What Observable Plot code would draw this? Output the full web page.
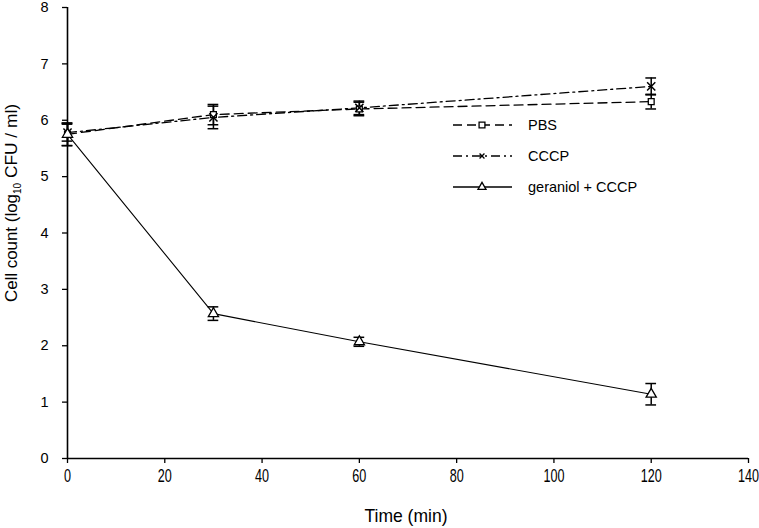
<!DOCTYPE html>
<html>
<head>
<meta charset="utf-8">
<script src="https://cdn.jsdelivr.net/npm/d3@7"></script>
<script src="https://cdn.jsdelivr.net/npm/@observablehq/plot@0.6"></script>
<style>
  html, body { margin: 0; padding: 0; background: #fff; }
  #chart svg { display: block; }
</style>
</head>
<body>
<div id="chart"></div>
<script>
const times = [0, 30, 60, 120];
const seriesNames = ["PBS", "CCCP", "geraniol + CCCP"];
const pbsValues = [5.75, 6.1, 6.2, 6.33];
const pbsErrors = [0.2, 0.18, 0.12, 0.13];
const cccpValues = [5.78, 6.05, 6.22, 6.6];
const cccpErrors = [0.15, 0.2, 0.12, 0.15];
const gerValues = [5.75, 2.57, 2.07, 1.14];
const gerErrors = [0.2, 0.12, 0.08, 0.19];
const xTicks = [0, 20, 40, 60, 80, 100, 120, 140];
const yTicks = [0, 1, 2, 3, 4, 5, 6, 7, 8];

const mk = (name, vals, errs) => times.map((t, i) => ({series: name, t, v: vals[i], e: errs[i]}));
const pbs = mk(seriesNames[0], pbsValues, pbsErrors);
const cccp = mk(seriesNames[1], cccpValues, cccpErrors);
const ger = mk(seriesNames[2], gerValues, gerErrors);
const all = [...pbs, ...cccp, ...ger];

const styles = {
  "PBS": {dash: "9,5", symbol: "square"},
  "CCCP": {dash: "9,4,2,4", symbol: "times"},
  "geraniol + CCCP": {dash: null, symbol: "triangle"}
};

const capHalf = 1.1; // minutes
const plot = Plot.plot({
  width: 759,
  height: 528,
  marginLeft: 67,
  marginRight: 11,
  marginTop: 7,
  marginBottom: 70,
  style: {fontFamily: "'Liberation Sans', Arial, sans-serif", background: "#fff", color: "#000"},
  x: {domain: [0, 140], ticks: xTicks},
  y: {domain: [0, 8], ticks: yTicks},
  marks: [
    Plot.axisX({ticks: xTicks, tickSize: 5, tickFormat: () => "", label: null, strokeWidth: 1.3}),
    Plot.text(xTicks, {x: d => d, frameAnchor: "bottom", dy: 23, text: d => String(d),
      fontSize: 17.5, fill: "#000"}),
    Plot.axisY({ticks: yTicks, tickSize: 5, tickPadding: 14, fontSize: 14.5, label: null, strokeWidth: 1.3}),
    Plot.ruleY([0], {stroke: "#000", strokeWidth: 1.6}),
    Plot.ruleX([0], {stroke: "#000", strokeWidth: 1.6}),
    Plot.line(pbs, {x: "t", y: "v", stroke: "#000", strokeWidth: 1.3, strokeDasharray: styles["PBS"].dash}),
    Plot.line(cccp, {x: "t", y: "v", stroke: "#000", strokeWidth: 1.3, strokeDasharray: styles["CCCP"].dash}),
    Plot.line(ger, {x: "t", y: "v", stroke: "#000", strokeWidth: 1.1}),
    Plot.ruleX(all, {x: "t", y1: d => d.v - d.e, y2: d => d.v + d.e, stroke: "#000", strokeWidth: 1.5}),
    Plot.ruleY(all, {y: d => d.v - d.e, x1: d => d.t - capHalf, x2: d => d.t + capHalf, stroke: "#000", strokeWidth: 1.5}),
    Plot.ruleY(all, {y: d => d.v + d.e, x1: d => d.t - capHalf, x2: d => d.t + capHalf, stroke: "#000", strokeWidth: 1.5}),
    Plot.dot(pbs, {x: "t", y: "v", symbol: "square", r: 3.3, fill: "#fff", stroke: "#000", strokeWidth: 1.3}),
    Plot.dot(cccp, {x: "t", y: "v", symbol: "times", r: 3.8, stroke: "#000", strokeWidth: 1.5}),
    Plot.dot(ger, {x: "t", y: "v", symbol: "triangle", r: 3.8, fill: "#fff", stroke: "#000", strokeWidth: 1.3})
  ]
});
document.getElementById("chart").appendChild(plot);

const svg = d3.select(plot);
// Condense the x tick labels like the reference (narrow face)
const xTickStrings = new Set(xTicks.map(String));
svg.selectAll("text").each(function() {
  const p = this.parentNode;
  const lab = p && p.getAttribute ? (p.getAttribute("aria-label") || "") : "";
  if (lab.startsWith("y-axis")) return;
  const s = this.textContent;
  if (!xTickStrings.has(s)) return;
  const x = +(this.getAttribute("x") || 0), y = +(this.getAttribute("y") || 0);
  const t = this.getAttribute("transform") || "";
  this.setAttribute("transform", `${t} translate(${x},${y}) scale(0.72,1) translate(${-x},${-y})`);
});

// Axis titles
svg.append("text")
  .attr("x", 406).attr("y", 522)
  .attr("text-anchor", "middle")
  .attr("font-family", "'Liberation Sans', Arial, sans-serif").attr("font-size", 19)
  .attr("textLength", 83).attr("lengthAdjust", "spacingAndGlyphs")
  .attr("fill", "#000")
  .text("Time (min)");
const yl = svg.append("text")
  .attr("transform", "translate(17,203) rotate(-90)")
  .attr("text-anchor", "middle")
  .attr("font-family", "'Liberation Sans', Arial, sans-serif").attr("font-size", 17)
  .attr("fill", "#000");
yl.append("tspan").attr("textLength", 108).attr("lengthAdjust", "spacingAndGlyphs").text("Cell count (log");
yl.append("tspan").attr("font-size", 10).attr("dy", 4).text("10");
yl.append("tspan").attr("dy", -4).attr("textLength", 79).attr("lengthAdjust", "spacingAndGlyphs").text(" CFU / ml)");

// Legend
const legRows = [125, 156, 187];
seriesNames.forEach((name, i) => {
  const g = svg.append("g");
  const y = legRows[i];
  g.append("line").attr("x1", 453).attr("x2", 512).attr("y1", y).attr("y2", y)
    .attr("stroke", "#000").attr("stroke-width", 1.3)
    .attr("stroke-dasharray", styles[name].dash);
  const sym = {square: d3.symbolSquare2, times: d3.symbolTimes, triangle: d3.symbolTriangle2}[styles[name].symbol];
  const size = {square: 3.3 * 3.3 * 4, times: 3.8 * 3.8 * 1.2, triangle: 3.8 * 3.8 * 3.2}[styles[name].symbol];
  g.append("path").attr("d", d3.symbol(sym, size)())
    .attr("transform", `translate(482,${y})`)
    .attr("fill", styles[name].symbol === "times" ? "none" : "#fff")
    .attr("stroke", "#000").attr("stroke-width", 1.3);
  g.append("text").attr("x", 528).attr("y", y).attr("dy", "0.35em")
    .attr("text-anchor", "start")
    .attr("font-family", "'Liberation Sans', Arial, sans-serif").attr("font-size", 14.5)
    .attr("fill", "#000").text(name);
});
</script>
</body>
</html>
